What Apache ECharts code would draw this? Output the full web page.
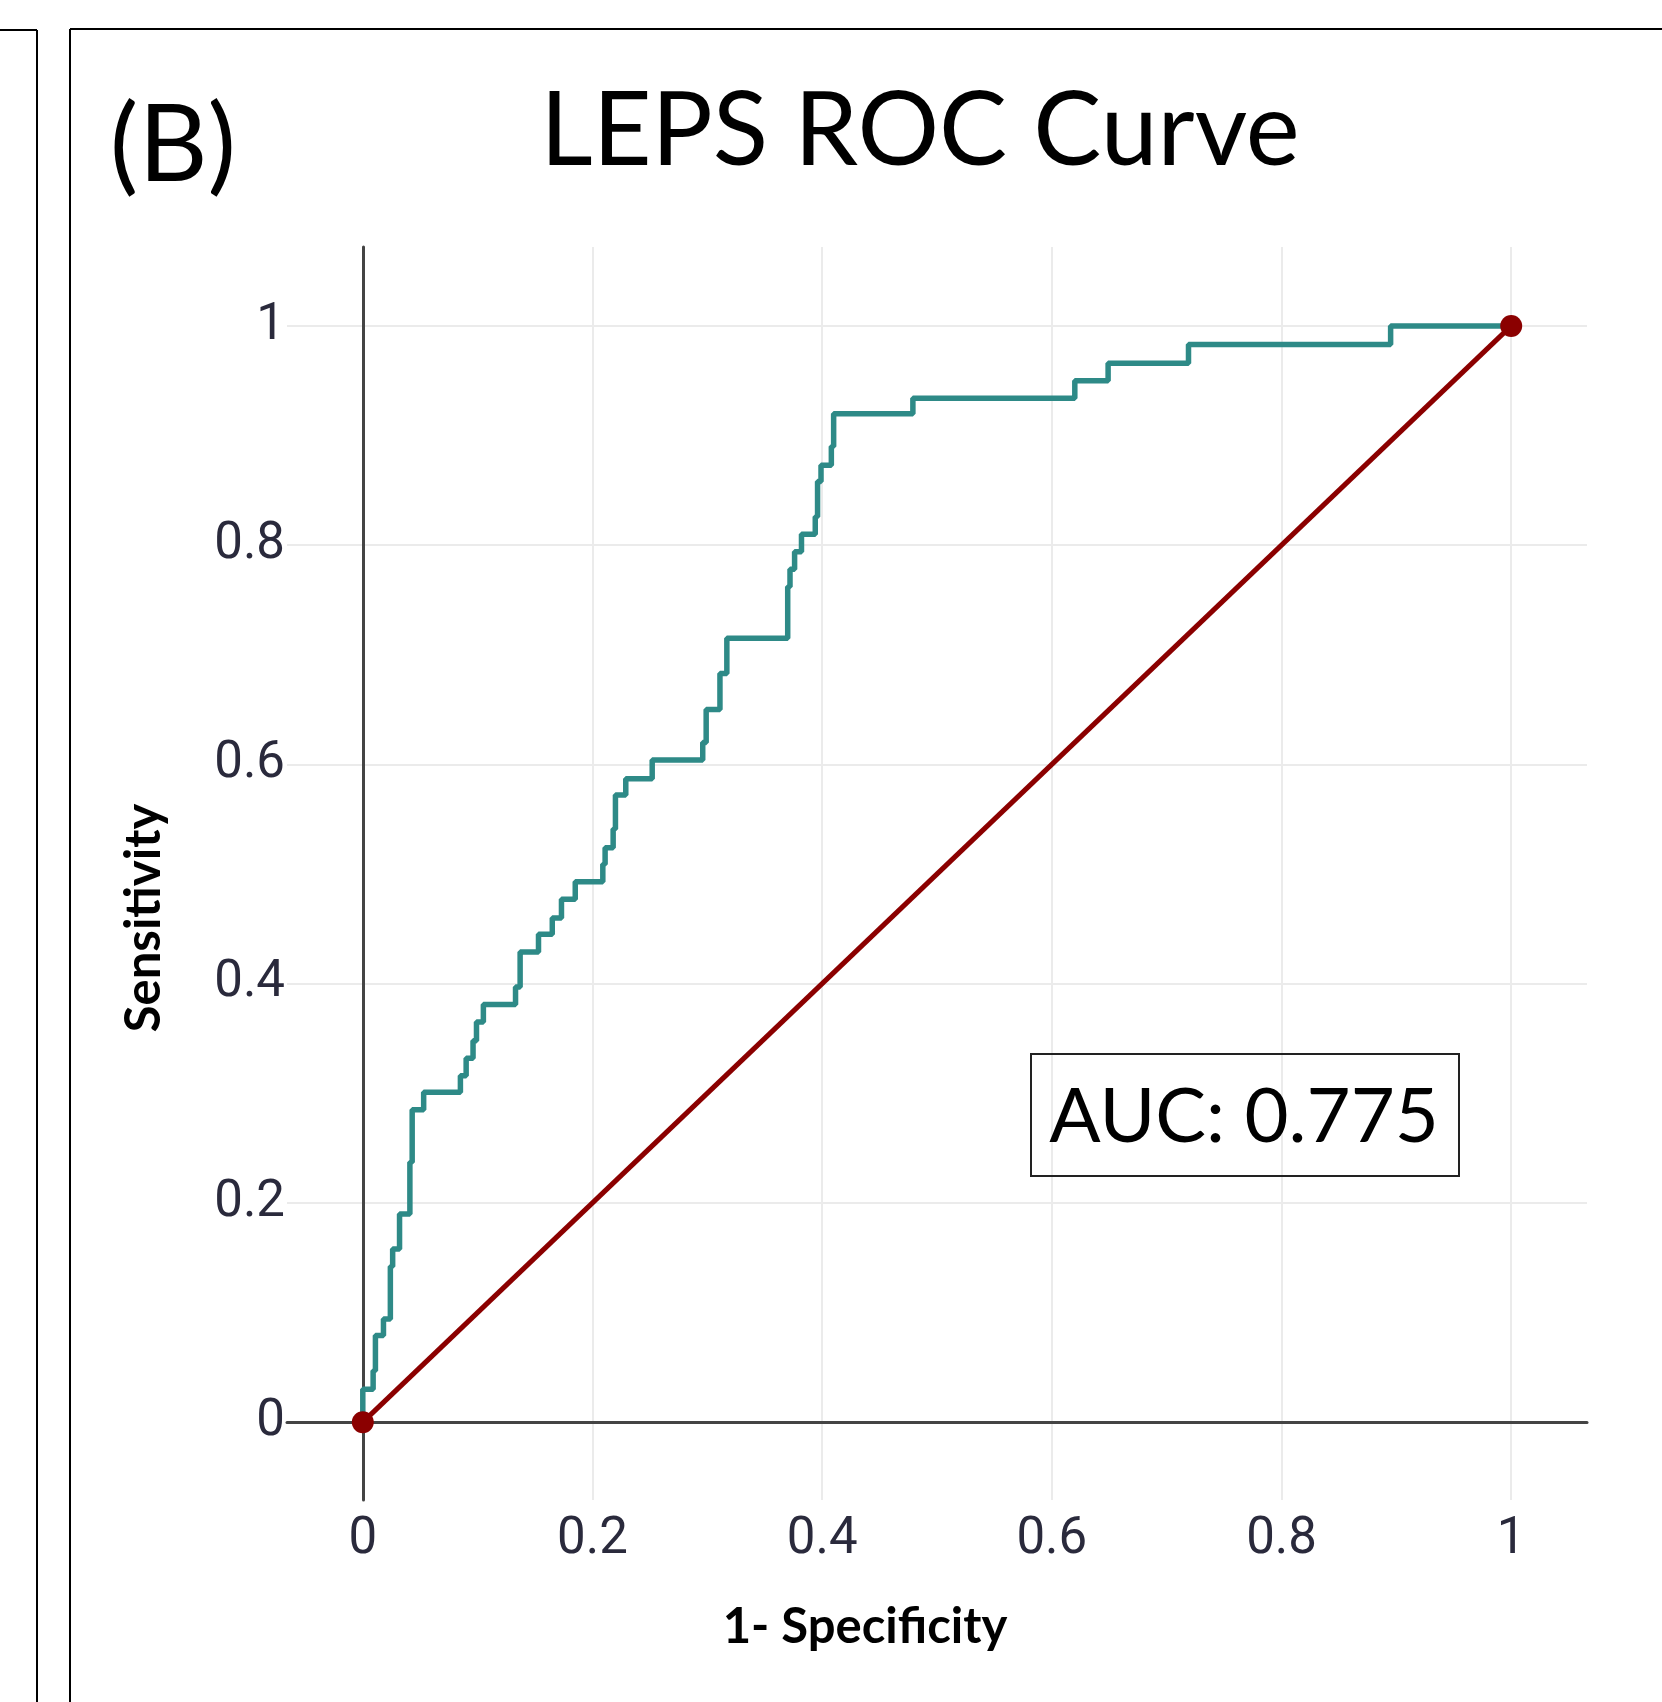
<!DOCTYPE html>
<html>
<head>
<meta charset="utf-8">
<title>LEPS ROC Curve</title>
<script src="https://cdn.jsdelivr.net/npm/echarts@6.0.0/dist/echarts.min.js"></script>
<style>
  html, body { margin: 0; padding: 0; background: #fff; }
  #chart { width: 1662px; height: 1702px; }
</style>
</head>
<body>
<div id="chart"></div>
<script>
// ROC points (1 - specificity, sensitivity)
const fpr = [0, 0, 0.009, 0.011, 0.018, 0.024, 0.026, 0.032, 0.041, 0.043, 0.053, 0.085, 0.090, 0.096, 0.099, 0.105,
  0.133, 0.137, 0.153, 0.165, 0.173, 0.185, 0.209, 0.211, 0.218, 0.220, 0.229, 0.252, 0.296, 0.299, 0.311, 0.317,
  0.370, 0.372, 0.376, 0.382, 0.394, 0.396, 0.399, 0.408, 0.410, 0.479, 0.620, 0.649, 0.719, 0.895, 1];
const tpr = [0, 0.030, 0.047, 0.079, 0.094, 0.142, 0.158, 0.190, 0.237, 0.285, 0.301, 0.316, 0.332, 0.348, 0.365, 0.381,
  0.397, 0.429, 0.445, 0.460, 0.477, 0.493, 0.509, 0.524, 0.541, 0.572, 0.587, 0.604, 0.620, 0.650, 0.683, 0.715,
  0.762, 0.778, 0.794, 0.810, 0.826, 0.858, 0.873, 0.890, 0.920, 0.934, 0.950, 0.966, 0.983, 1, 1];
// chance line
const diagX = [0, 1];
const diagY = [0, 1];
const tickValues = [0, 0.2, 0.4, 0.6, 0.8, 1];
const aucText = "AUC: 0.775";

const tickFont = "Roboto, 'Liberation Sans', sans-serif";
const textFont = "Lato, 'Open Sans', sans-serif";

const chart = echarts.init(document.getElementById("chart"));
const option = {
  backgroundColor: "#fff",
  animation: false,
  grid: { left: 287, right: 75, top: 247, bottom: 202 },
  xAxis: {
    type: "value",
    min: -0.066,
    max: 1.066,
    // zero line like plotly
    axisLine: { show: true, onZero: true, lineStyle: { color: "#444", width: 3 } },
    axisTick: { show: false, customValues: tickValues },
    axisLabel: {
      customValues: tickValues,
      margin: 15,
      fontSize: 51,
      fontFamily: tickFont,
      color: "#2a2a3c",
    },
    splitLine: { show: true, lineStyle: { color: "#ebebeb", width: 2 } },
  },
  yAxis: {
    type: "value",
    min: -0.071,
    max: 1.072,
    axisLine: { show: true, onZero: true, lineStyle: { color: "#444", width: 3 } },
    axisTick: { show: false, customValues: tickValues },
    axisLabel: {
      customValues: tickValues,
      margin: 2,
      fontSize: 51,
      fontFamily: tickFont,
      color: "#2a2a3c",
    },
    splitLine: { show: true, lineStyle: { color: "#ebebeb", width: 2 } },
  },
  series: [
    {
      name: "LEPS",
      type: "line",
      step: "end",
      showSymbol: false,
      lineStyle: { color: "#2e8a87", width: 5.5 },
      data: fpr.map((x, i) => [x, tpr[i]]),
      z: 2,
    },
    {
      name: "chance",
      type: "line",
      symbol: "circle",
      symbolSize: 22,
      itemStyle: { color: "#8b0000" },
      lineStyle: { color: "#8b0000", width: 5 },
      data: diagX.map((x, i) => [x, diagY[i]]),
      z: 3,
    },
  ],
  graphic: [
    // panel frames
    { type: "line", z: 10, shape: { x1: 0, y1: 30, x2: 37, y2: 30 }, style: { stroke: "#000", lineWidth: 2 } },
    { type: "line", z: 10, shape: { x1: 37, y1: 30, x2: 37, y2: 1702 }, style: { stroke: "#000", lineWidth: 2 } },
    { type: "line", z: 10, shape: { x1: 70, y1: 29, x2: 1662, y2: 29 }, style: { stroke: "#000", lineWidth: 2 } },
    { type: "line", z: 10, shape: { x1: 70, y1: 29, x2: 70, y2: 1702 }, style: { stroke: "#000", lineWidth: 2 } },
    {
      type: "text", z: 10, x: 173, y: 146,
      style: { text: "(B)", fontSize: 107, fontFamily: textFont, fill: "#000", align: "center", verticalAlign: "middle" },
    },
    {
      type: "text", z: 10, x: 920, y: 132,
      style: { text: "LEPS ROC Curve", fontSize: 102, fontFamily: textFont, fill: "#000", align: "center", verticalAlign: "middle" },
    },
    {
      type: "text", z: 10, x: 865, y: 1627,
      style: { text: "1- Specificity", fontSize: 49, fontWeight: "bold", fontFamily: textFont, fill: "#000", align: "center", verticalAlign: "middle" },
    },
    {
      type: "text", z: 10, x: 144, y: 918, rotation: Math.PI / 2,
      style: { text: "Sensitivity", fontSize: 49, fontWeight: "bold", fontFamily: textFont, fill: "#000", align: "center", verticalAlign: "middle" },
    },
    {
      type: "rect", z: 10, shape: { x: 1031, y: 1054, width: 428, height: 122 },
      style: { fill: "none", stroke: "#222", lineWidth: 2 },
    },
    {
      type: "text", z: 11, x: 1244, y: 1117,
      style: { text: aucText, fontSize: 76, fontFamily: textFont, fill: "#000", align: "center", verticalAlign: "middle" },
    },
  ],
};
chart.setOption(option);
</script>
</body>
</html>
